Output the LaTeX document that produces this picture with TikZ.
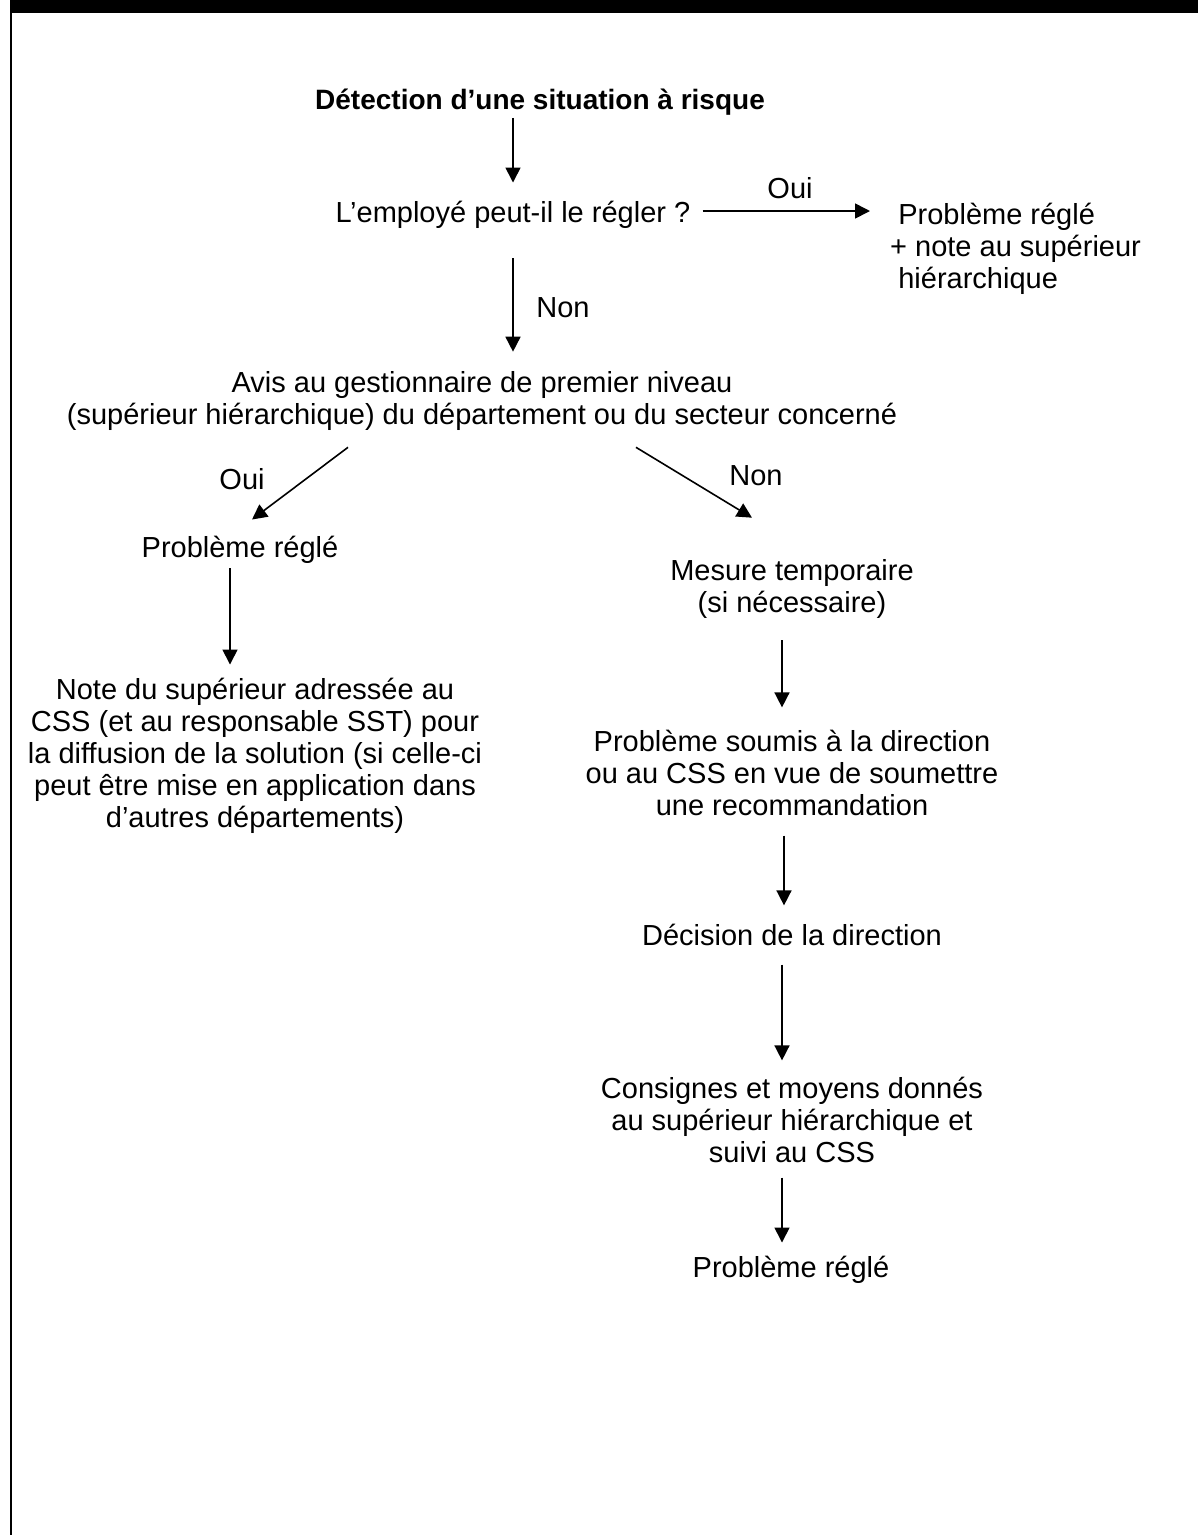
\documentclass[tikz,border=0pt]{standalone}
\usepackage{fontspec}
\setmainfont{Liberation Sans}
\usetikzlibrary{arrows.meta}

\begin{document}
\begin{tikzpicture}[
        x=1pt, y=-1pt,
        txt/.style={align=center, inner sep=0pt, font=\fontsize{29}{32}\selectfont},
        lbl/.style={inner sep=0pt, font=\fontsize{29}{32}\selectfont},
        flow/.style={line width=1.6pt, -{Triangle[length=15pt, width=15pt]}},
    ]

        \useasboundingbox (0,0) rectangle (1198,1535);

        % cadre
        \fill[black] (10,0) rectangle (1198,13);
        \draw[line width=2pt] (11,13) -- (11,1535);

        % etapes
        \node[txt, font=\fontsize{28}{32}\selectfont\bfseries] (detect) at (540,102) {Détection d’une situation à risque};
        \node[txt] (employe) at (513,215) {L’employé peut-il le régler ?};
        \node[txt, align=left, anchor=west] (regle1) at (890,249) {\hspace*{0.28em}Problème réglé\\+ note au supérieur\\\hspace*{0.28em}hiérarchique};
        \node[txt] (avis) at (482,401) {Avis au gestionnaire de premier niveau\\(supérieur hiérarchique) du département ou du secteur concerné};
        \node[txt] (regle2) at (240,550) {Problème réglé};
        \node[txt] (note) at (255,756) {Note du supérieur adressée au\\CSS (et au responsable SST) pour\\la diffusion de la solution (si celle-ci\\peut être mise en application dans\\d’autres départements)};
        \node[txt] (mesure) at (792,589) {Mesure temporaire\\(si nécessaire)};
        \node[txt] (soumis) at (792,773) {Problème soumis à la direction\\ou au CSS en vue de soumettre\\une recommandation};
        \node[txt] (decision) at (792,935) {Décision de la direction};
        \node[txt] (consignes) at (792,1120) {Consignes et moyens donnés\\au supérieur hiérarchique et\\suivi au CSS};
        \node[txt] (regle3) at (791,1270) {Problème réglé};

        % fleches
        \draw[flow, shorten <=2.6pt, shorten >=18.6pt] (detect.south -| employe) -- (employe.north);
        \draw[flow, shorten <=12pt, shorten >=20pt] ([yshift=4pt]employe.east) -- ([yshift=4pt]employe.east -| regle1.west);
        \draw[flow, shorten <=29.6pt, shorten >=19.6pt] (employe.south) -- (employe.south |- avis.north);
        \draw[flow] ([xshift=-134pt, yshift=-16.6pt]avis.south) -- ([xshift=12pt, yshift=16.6pt]regle2.north);
        \draw[flow] ([xshift=154pt, yshift=-16.6pt]avis.south) -- ([xshift=-40pt, yshift=41.6pt]mesure.north);
        \draw[flow, shorten <=4.6pt, shorten >=13.6pt] ([xshift=-10pt]regle2.south) -- ([xshift=-10pt]regle2.south |- note.north);
        \draw[flow, shorten <=21.6pt, shorten >=22.6pt] ([xshift=-10pt]mesure.south) -- ([xshift=-10pt]mesure.south |- soumis.north);
        \draw[flow, shorten <=19.6pt, shorten >=18.6pt] ([xshift=-8pt]soumis.south) -- ([xshift=-8pt]soumis.south |- decision.north);
        \draw[flow, shorten <=18.6pt, shorten >=16.6pt] ([xshift=-10pt]decision.south) -- ([xshift=-10pt]decision.south |- consignes.north);
        \draw[flow, shorten <=14.6pt, shorten >=13.6pt] ([xshift=-10pt]consignes.south) -- ([xshift=-10pt]consignes.south |- regle3.north);

        % etiquettes
        \node[lbl] (oui1) at (790,188) {Oui};
        \node[lbl] (non1) at (563,308) {Non};
        \node[lbl] (oui2) at (242,479) {Oui};
        \node[lbl] (non2) at (756,476) {Non};

    \end{tikzpicture}
\end{document}
